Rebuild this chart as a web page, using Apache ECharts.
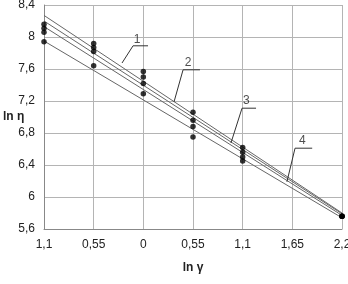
<!DOCTYPE html>
<html><head><meta charset="utf-8">
<script src="https://cdn.jsdelivr.net/npm/echarts@6/dist/echarts.min.js"></script>
<style>html,body{margin:0;padding:0;background:#fff}#c{width:348px;height:284px}</style>
</head><body><div id="c"></div>
<script>
// x ticks (ln gamma) as printed in the source (minus signs missing)
const xTickValues = [-1.1, -0.55, 0, 0.55, 1.1, 1.65, 2.2];
const xTickLabels = ['1,1', '0,55', '0', '0,55', '1,1', '1,65', '2,2'];
const yTickValues = [5.6, 6, 6.4, 6.8, 7.2, 7.6, 8, 8.4];
const yTickLabels = ['5,6', '6', '6,4', '6,8', '7,2', '7,6', '8', '8,4'];
const xTitle = 'ln γ';
const yTitle = 'ln η';

// measured points: x and y values
const pointX = [-1.1,-1.1,-1.1,-1.1, -0.55,-0.55,-0.55,-0.55, 0,0,0,0, 0.55,0.55,0.55,0.55, 1.1,1.1,1.1,1.1, 2.2,2.2,2.2,2.2];
const pointY = [8.16,8.11,8.06,7.94, 7.92,7.87,7.82,7.64, 7.57,7.50,7.42,7.29, 7.06,6.96,6.88,6.75, 6.62,6.56,6.50,6.45, 5.76,5.76,5.76,5.76];

// fitted lines: x ends and y values at the ends
const lineX = [-1.1, 2.2];
const line1 = [8.27, 5.80];
const line2 = [8.20, 5.79];
const line3 = [8.13, 5.77];
const line4 = [7.95, 5.74];

// leader annotations: label, text position, and leader polyline (diag end, corner, horizontal end)
const annNames = ['1', '2', '3', '4'];
const annTextX = [-0.07, 0.495, 1.14, 1.76];
const annTextY = [7.97, 7.68, 7.21, 6.70];
const annLeaderX = [[-0.236, -0.114, 0.052], [0.34, 0.44, 0.627], [0.97, 1.093, 1.248], [1.59, 1.68, 1.87]];
const annLeaderY = [[7.675, 7.89, 7.89], [7.19, 7.59, 7.59], [6.675, 7.11, 7.11], [6.19, 6.61, 6.61]];

const FONT = '"Liberation Sans Narrow", "Liberation Sans", Arial, sans-serif';
function fmtX(v){ for (let i=0;i<xTickValues.length;i++) if (Math.abs(v-xTickValues[i])<1e-6) return xTickLabels[i]; return ''; }
function fmtY(v){ for (let i=0;i<yTickValues.length;i++) if (Math.abs(v-yTickValues[i])<1e-6) return yTickLabels[i]; return ''; }

const lines = [line1, line2, line3, line4];
const series = [];
lines.forEach(function(l, i){
  series.push({type:'line', data: lineX.map(function(x,j){return [x, l[j]];}), symbol:'none',
    lineStyle:{color:'#666', width:1}, silent:true, z:2});
});
annNames.forEach(function(n, i){
  series.push({type:'line', data: annLeaderX[i].map(function(x,j){return [x, annLeaderY[i][j]];}), symbol:'none',
    lineStyle:{color:'#333', width:1}, silent:true, z:3});
});
series.push({type:'scatter', data: annNames.map(function(n,i){return {value:[annTextX[i], annTextY[i]], name:n};}),
  symbolSize:0, label:{show:true, position:'inside', formatter:'{b}', color:'#222', fontSize:12, fontFamily:FONT}, z:4});
series.push({type:'scatter', data: pointX.map(function(x,i){return [x, pointY[i]];}), symbol:'circle', symbolSize:5.5,
  itemStyle:{color:'#000'}, clip:false, z:5});

const chart = echarts.init(document.getElementById('c'));
chart.setOption({
  animation:false,
  backgroundColor:'#fff',
  grid:{left:44, right:6, top:5, bottom:55, containLabel:false, outerBoundsMode:'none'},
  graphic:[{type:'text', left:3, top:111, style:{text:yTitle, fontFamily:FONT, fontSize:12, fontWeight:'bold', fill:'#222'}}],
  xAxis:{type:'value', min:-1.1, max:2.2, interval:0.55,
    name:xTitle, nameLocation:'middle', nameGap:33,
    nameTextStyle:{fontFamily:FONT, fontSize:12, fontWeight:'bold', color:'#222'},
    axisLine:{onZero:false, lineStyle:{color:'#888'}}, axisTick:{show:false},
    axisLabel:{formatter:fmtX, fontFamily:FONT, fontSize:12, color:'#222', margin:10},
    splitLine:{show:true, lineStyle:{color:'#b4b4b4'}}},
  yAxis:{type:'value', min:5.6, max:8.4, interval:0.4,
    axisLine:{show:true, onZero:false, lineStyle:{color:'#888'}}, axisTick:{show:false},
    axisLabel:{formatter:fmtY, fontFamily:FONT, fontSize:12, color:'#222', margin:9},
    splitLine:{show:true, lineStyle:{color:'#b4b4b4'}}},
  series:series
});
</script></body></html>
